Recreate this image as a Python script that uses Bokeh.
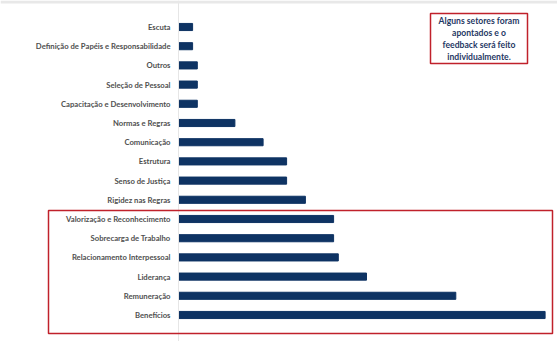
from bokeh.plotting import figure
from bokeh.models import FactorRange, Range1d, Span, BoxAnnotation, Label
from bokeh.core.properties import value
from bokeh.embed import file_html
from bokeh.resources import INLINE

categories = [
    "Escuta",
    "Definição de Papéis e Responsabilidade",
    "Outros",
    "Seleção de Pessoal",
    "Capacitação e Desenvolvimento",
    "Normas e Regras",
    "Comunicação",
    "Estrutura",
    "Senso de Justiça",
    "Rigidez nas Regras",
    "Valorização e Reconhecimento",
    "Sobrecarga de Trabalho",
    "Relacionamento Interpessoal",
    "Liderança",
    "Remuneração",
    "Benefícios",
]
values = [3, 3, 4, 4, 4, 12, 18, 23, 23, 27, 33, 33, 34, 40, 59, 78]
note = "Alguns setores foram\napontados e o\nfeedback será feito\nindividualmente."

W, H = 557, 341
px_per_unit = 4.7
axis_px = 178

p = figure(
    width=W, height=H, output_backend="svg", toolbar_location=None,
    x_range=Range1d(-axis_px / px_per_unit, (W - axis_px) / px_per_unit),
    y_range=FactorRange(factors=categories[::-1], range_padding=0.88,
                        range_padding_units="absolute"),
    min_border=0, min_border_left=0, min_border_right=0,
    min_border_top=0, min_border_bottom=0,
)
p.axis.visible = False
p.grid.visible = False
p.outline_line_color = None
p.background_fill_color = "white"

p.add_layout(Span(location=0, dimension="height", line_color="#e6e6e6", line_width=1))

p.hbar(y=categories, right=values, left=0, height=0.37, color="#0e3363")

p.text(x=[0] * len(categories), y=categories, text=categories, x_offset=-8,
       text_align="right", text_baseline="middle", text_font=value("Lato"),
       text_font_size="7.7px", text_font_style="bold", text_color="#505050")

# top grey strip
p.add_layout(BoxAnnotation(left=0, right=W, top=H, bottom=H - 3,
                           left_units="screen", right_units="screen",
                           top_units="screen", bottom_units="screen",
                           fill_color="#e8e8e8", fill_alpha=1, line_color=None))

# highlight box
p.add_layout(BoxAnnotation(left=48, right=552, top=H - 210, bottom=H - 333,
                           left_units="screen", right_units="screen",
                           top_units="screen", bottom_units="screen",
                           fill_alpha=0, line_color="#c0212b", line_alpha=1,
                           line_width=1.5))

# note box
p.add_layout(BoxAnnotation(left=430, right=527, top=H - 13, bottom=H - 63,
                           left_units="screen", right_units="screen",
                           top_units="screen", bottom_units="screen",
                           fill_alpha=0, line_color="#c0212b", line_alpha=1,
                           line_width=1.5))
p.add_layout(Label(x=478.5, y=H - 38, x_units="screen", y_units="screen",
                   text=note, text_align="center", text_baseline="middle",
                   text_font="Lato", text_font_size="8.6px", text_font_style="bold",
                   text_color="#1f3864", text_line_height=1.2))

open("out.html", "w").write(file_html(p, INLINE))
